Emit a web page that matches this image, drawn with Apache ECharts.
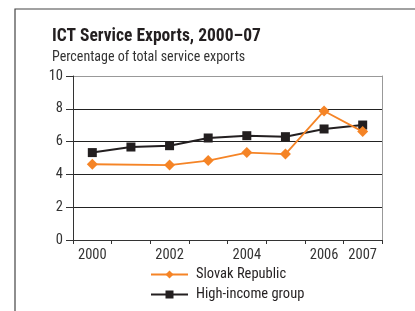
<!DOCTYPE html>
<html>
<head>
<meta charset="utf-8">
<script src="https://cdn.jsdelivr.net/npm/echarts@6/dist/echarts.min.js"></script>
<style>
  html, body { margin: 0; padding: 0; background: #fff; }
  #chart { width: 415px; height: 311px; }
</style>
</head>
<body>
<div id="chart"></div>
<script>
var years = ['2000', '2001', '2002', '2003', '2004', '2005', '2006', '2007'];
var yearLabels = ['2000', '', '2002', '', '2004', '', '2006', '2007'];
var slovak = [4.62, null, 4.57, 4.84, 5.33, 5.24, 7.87, 6.61];
var highIncome = [5.33, 5.67, 5.75, 6.22, 6.36, 6.30, 6.77, 7.01];

var font = "'Liberation Sans Narrow', 'Arial Narrow', 'Roboto Condensed', sans-serif";

var myChart = echarts.init(document.getElementById('chart'));
var option = {
  backgroundColor: '#fff',
  animation: false,
  textStyle: { fontFamily: font },
  title: {
    text: 'ICT Service Exports, 2000–07',
    subtext: 'Percentage of total service exports',
    left: 47,
    top: 23,
    itemGap: 4,
    textStyle: { fontFamily: font, fontSize: 17.5, fontWeight: 'bold', color: '#231f20' },
    subtextStyle: { fontFamily: font, fontSize: 14, color: '#333' }
  },
  graphic: [{
    type: 'rect',
    shape: { x: 15, y: 9, width: 600, height: 600 },
    style: { fill: 'none', stroke: '#444', lineWidth: 1.2 }
  }],
  legend: {
    orient: 'vertical',
    left: 145,
    top: 262,
    itemWidth: 37,
    itemHeight: 10,
    itemGap: 5,
    textStyle: { fontFamily: font, fontSize: 14.5, color: '#231f20', padding: [0, 0, 0, 3] },
    data: ['Slovak Republic', 'High-income group']
  },
  grid: { left: 73, right: 33, top: 76, bottom: 71 },
  xAxis: {
    type: 'category',
    data: years,
    boundaryGap: true,
    axisLine: { lineStyle: { color: '#333' } },
    axisTick: { show: true, interval: 0, length: 4, lineStyle: { color: '#333' } },
    axisLabel: {
      interval: 0,
      fontFamily: font,
      fontSize: 14.5,
      color: '#333',
      margin: 8,
      formatter: function (v, i) { return yearLabels[i]; }
    }
  },
  yAxis: [{
    type: 'value',
    min: 0,
    max: 10,
    interval: 2,
    axisLine: { show: true, lineStyle: { color: '#333' } },
    axisTick: { show: true, length: 7, lineStyle: { color: '#333' } },
    axisLabel: { fontFamily: font, fontSize: 14.5, color: '#333', margin: 10 },
    splitLine: { lineStyle: { color: ['#222', '#222', '#222', '#222', '#222', '#999'], width: 1 } }
  }, {
    type: 'value',
    position: 'right',
    min: 0,
    max: 10,
    interval: 2,
    axisLine: { show: true, lineStyle: { color: '#999' } },
    axisTick: { show: false },
    axisLabel: { show: false },
    splitLine: { show: false }
  }],
  series: [{
    name: 'Slovak Republic',
    type: 'line',
    data: slovak,
    connectNulls: true,
    symbol: 'diamond',
    symbolSize: 11,
    itemStyle: { color: '#f58426' },
    lineStyle: { color: '#f58426', width: 1.8 },
    z: 3
  }, {
    name: 'High-income group',
    type: 'line',
    data: highIncome,
    symbol: 'rect',
    symbolSize: 9,
    itemStyle: { color: '#231f20' },
    lineStyle: { color: '#231f20', width: 2 },
    z: 2
  }]
};
myChart.setOption(option);
</script>
</body>
</html>
